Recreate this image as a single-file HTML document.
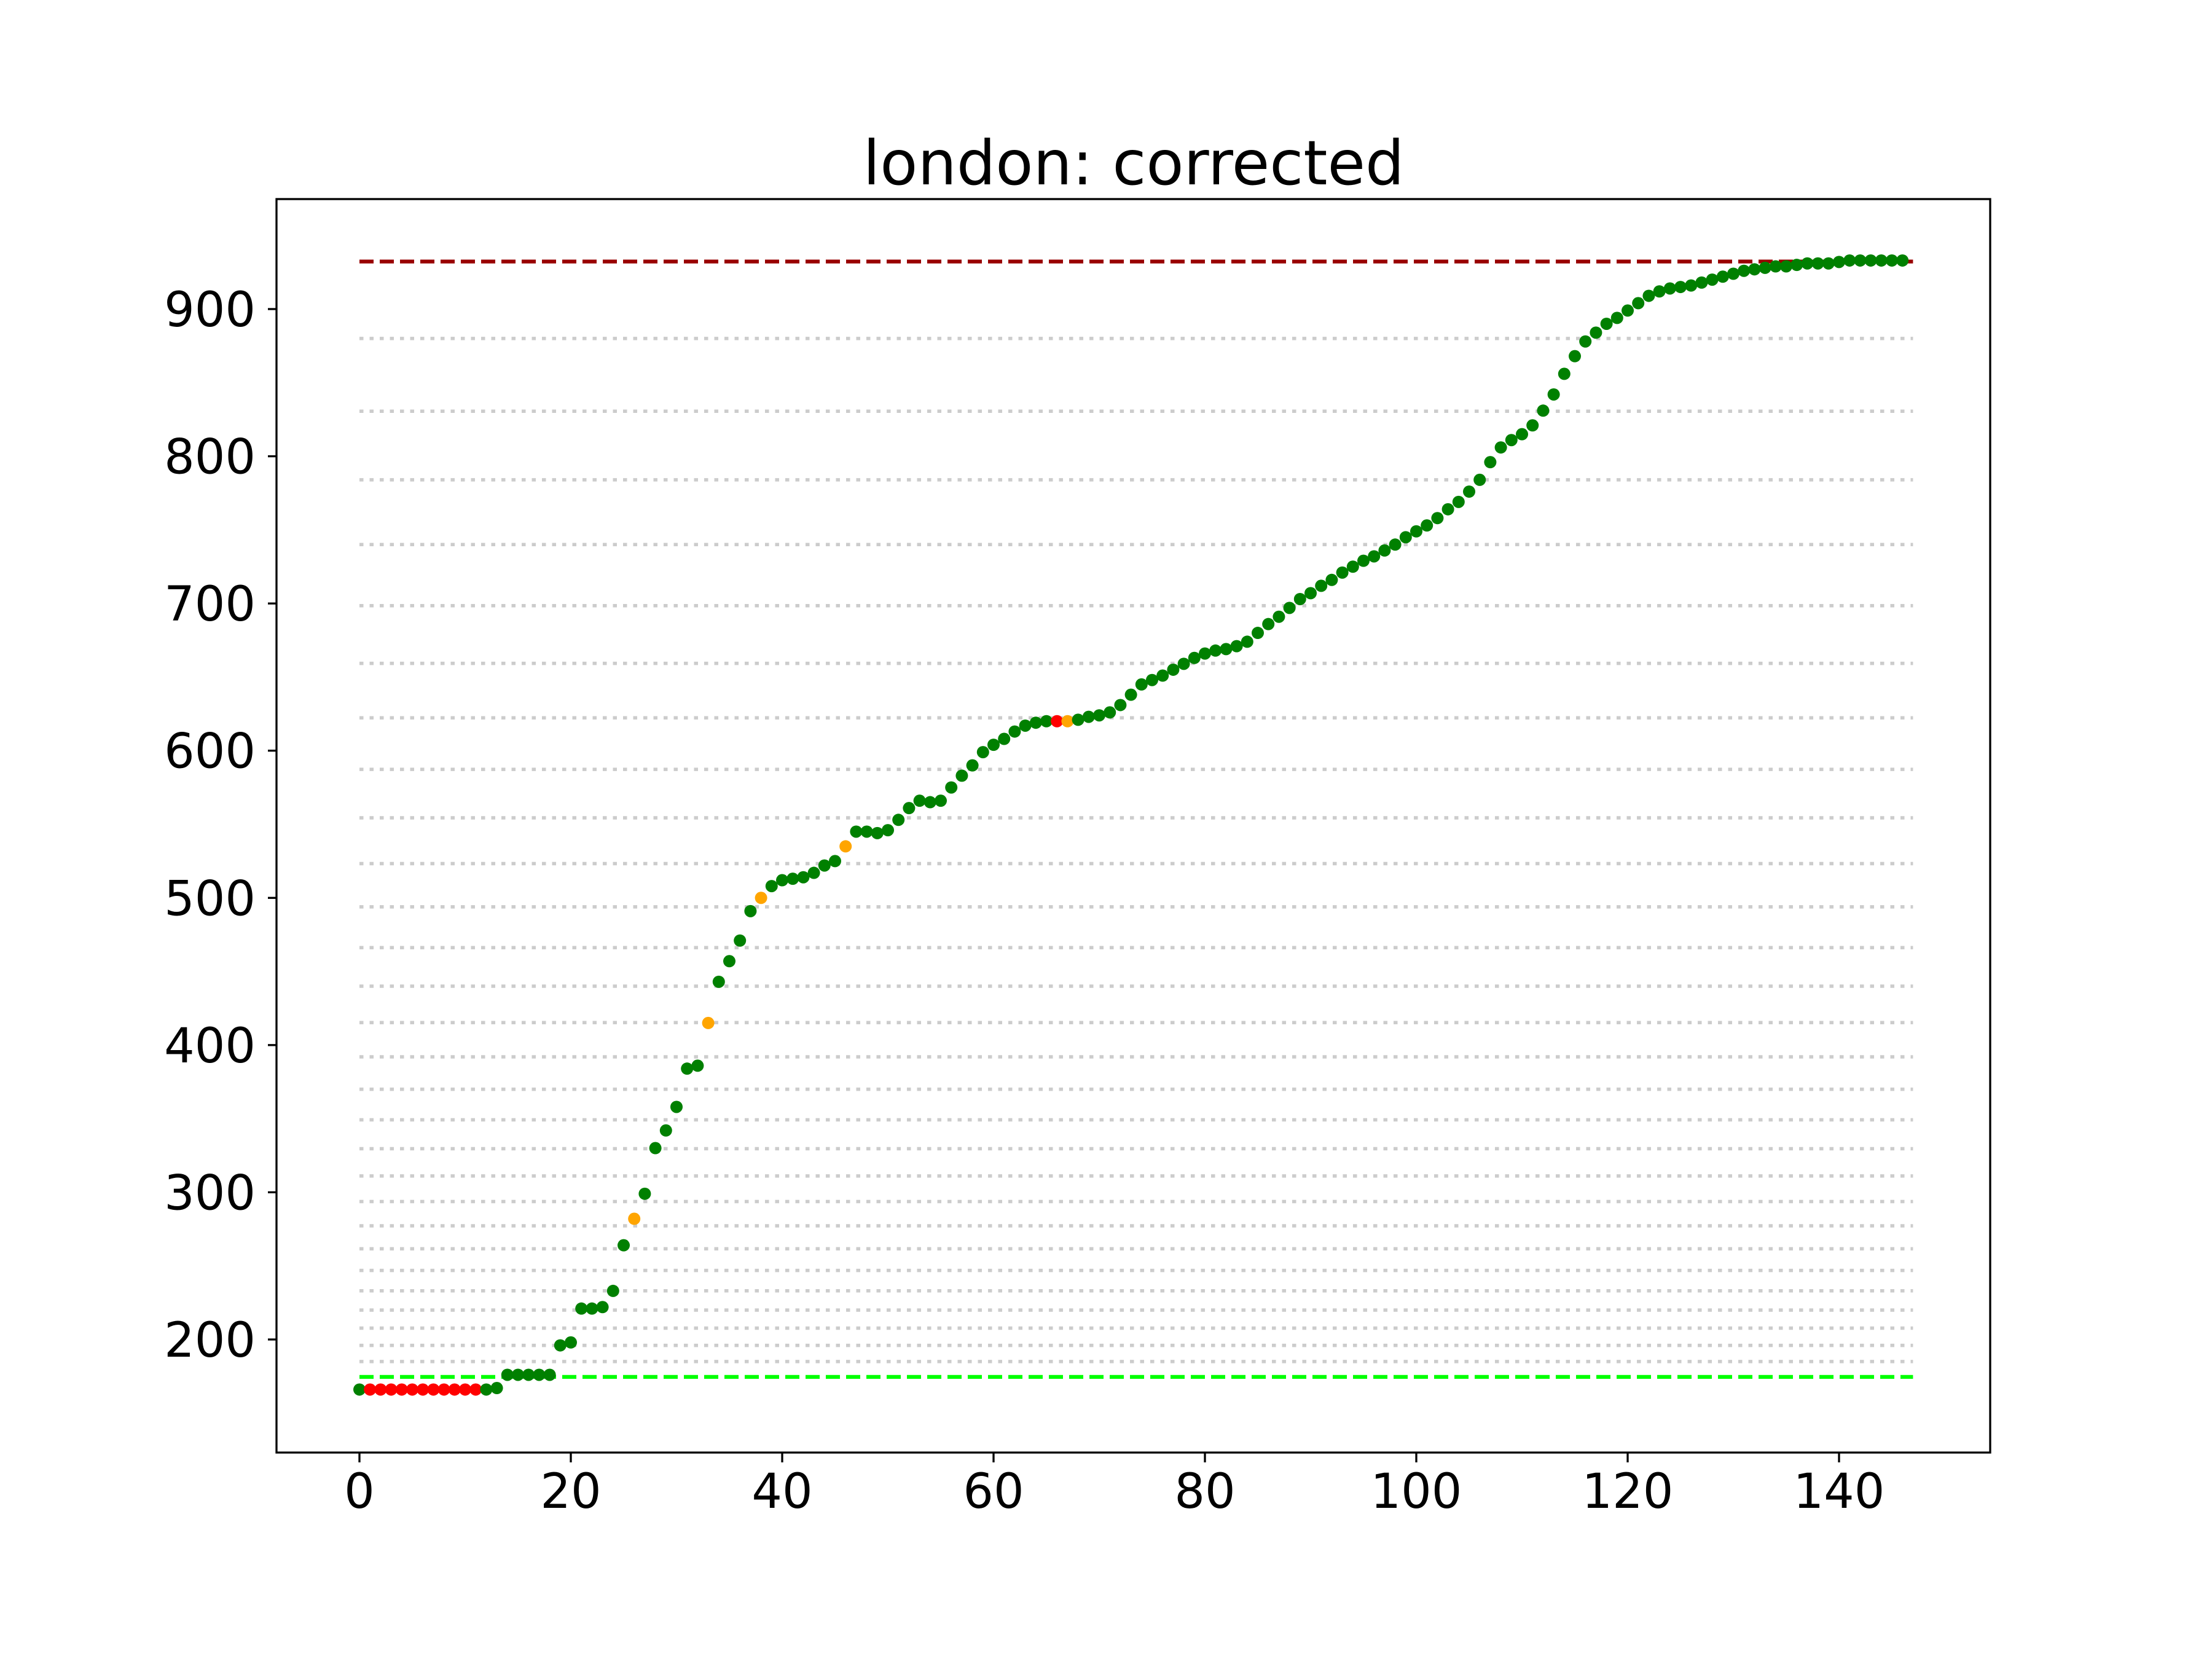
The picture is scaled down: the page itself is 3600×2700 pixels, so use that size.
<!DOCTYPE html>
<html><head><meta charset="utf-8"><style>
html,body{margin:0;padding:0;background:#fff;}
svg{display:block;}
text{font-family:"DejaVu Sans","Liberation Sans",sans-serif;}
</style></head><body>
<svg id="chart" width="3600" height="2700" viewBox="0 0 3600 2700" xmlns="http://www.w3.org/2000/svg">
<rect x="0" y="0" width="3600" height="2700" fill="#fff"/>
<text x="1845" y="300" font-size="100" text-anchor="middle">london: corrected</text>
<g id="grid"></g>
<g id="refs"></g>
<g id="points"></g>
<rect x="450" y="324" width="2789" height="2040" fill="none" stroke="#000" stroke-width="3.3"/>
<g id="xaxis"></g>
<g id="yaxis"></g>
</svg>
<script>
const values = [166,166,166,166,166,166,166,166,166,166,166,166,166,167,176,176,176,176,176,196,198,221,221,222,233,264,282,299,330,342,358,384,386,415,443,457,471,491,500,508,512,513,514,517,522,525,535,545,545,544,546,553,561,566,565,566,575,583,590,599,604,608,613,617,619,620,620,620,621,623,624,626,631,638,645,648,651,655,659,663,666,668,669,671,674,680,686,691,697,703,707,712,716,721,725,729,732,736,740,745,749,753,758,764,769,776,784,796,806,811,815,821,831,842,856,868,878,884,890,894,899,904,909,912,914,915,916,918,920,922,924,926,927,928,929,929,930,931,931,931,932,933,933,933,933,933,933];
const statuses = ["g","r","r","r","r","r","r","r","r","r","r","r","g","g","g","g","g","g","g","g","g","g","g","g","g","g","o","g","g","g","g","g","g","o","g","g","g","g","o","g","g","g","g","g","g","g","o","g","g","g","g","g","g","g","g","g","g","g","g","g","g","g","g","g","g","g","r","o"];
const noteLines = [185.0,196.0,207.7,220.0,233.1,246.9,261.6,277.2,293.7,311.1,329.6,349.2,370.0,392.0,415.3,440.0,466.2,493.9,523.3,554.4,587.3,622.3,659.3,698.5,740.0,784.0,830.6,880.0];
const upperRef = [932.3];
const lowerRef = [174.6];
const xTicks = [0,20,40,60,80,100,120,140];
const yTicks = [200,300,400,500,600,700,800,900];

const NS="http://www.w3.org/2000/svg";
function X(u){return 585 + u*17.2;}
function Y(v){return 503 + (900-v)*2.3957;}
function mk(tag, attrs, parent){const e=document.createElementNS(NS,tag);for(const k in attrs)e.setAttribute(k,attrs[k]);parent.appendChild(e);return e;}
const colorMap={g:"#008000",r:"#ff0000",o:"#ffa500"};
const xEnd = values.length;

const grid=document.getElementById('grid');
noteLines.forEach(v=>{
  const l=mk('line',{x1:X(0),x2:X(xEnd),y1:Y(v),y2:Y(v),stroke:"#cccccc","stroke-width":5.5,"stroke-dasharray":"6.5 10"},grid);
  
  
});
const refs=document.getElementById('refs');
upperRef.forEach(v=>{
  const l=mk('line',{x1:X(0),x2:X(xEnd),y1:Y(v),y2:Y(v),stroke:"#990000","stroke-width":6.25,"stroke-dasharray":"23 10"},refs);
  
  
});
lowerRef.forEach(v=>{
  const l=mk('line',{x1:X(0),x2:X(xEnd),y1:Y(v),y2:Y(v),stroke:"#00ff00","stroke-width":6.25,"stroke-dasharray":"23 10"},refs);
  
  
});
const pts=document.getElementById('points');
values.forEach((v,i)=>{
  const s=statuses[i]||"g";
  const c=mk('circle',{cx:X(i),cy:Y(v),r:10,fill:colorMap[s]},pts);
  
  
});
const xa=document.getElementById('xaxis');
xTicks.forEach(t=>{
  const tk=mk('line',{x1:X(t),x2:X(t),y1:2364,y2:2380,stroke:"#000","stroke-width":3.3},xa);
  
  
  const tx=mk('text',{x:X(t),y:2454,"font-size":78,"text-anchor":"middle"},xa);
  tx.textContent=t;
  
  
});
const ya=document.getElementById('yaxis');
yTicks.forEach(t=>{
  const tk=mk('line',{x1:436,x2:450,y1:Y(t),y2:Y(t),stroke:"#000","stroke-width":3.3},ya);
  
  
  const tx=mk('text',{x:416,y:Y(t)+28,"font-size":78,"text-anchor":"end"},ya);
  tx.textContent=t;
  
  
});
</script>
</body></html>
